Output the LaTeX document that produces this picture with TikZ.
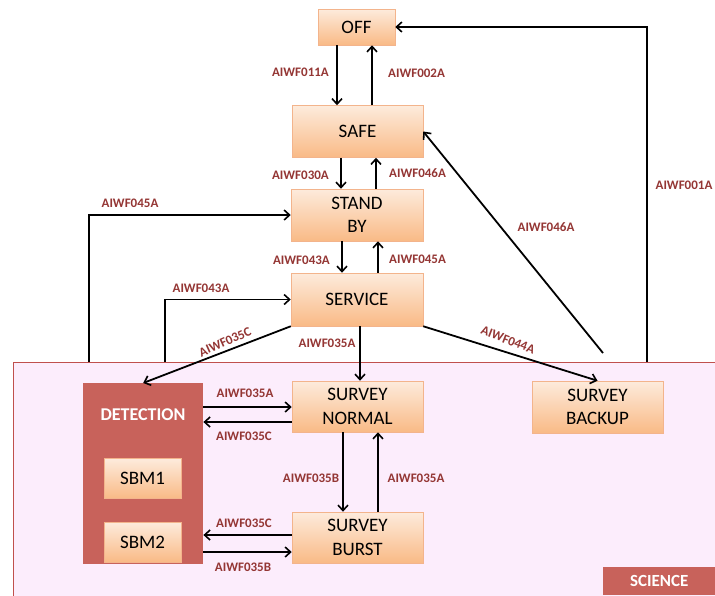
\documentclass[tikz,border=0pt]{standalone}
\usepackage{fontspec}
\setmainfont{Carlito}
\usetikzlibrary{arrows.meta,calc}
\definecolor{boxtop}{HTML}{FDEBDC}
\definecolor{boxbot}{HTML}{F9BA86}
\definecolor{boxline}{HTML}{F3B48C}
\definecolor{lab}{HTML}{943634}
\definecolor{detfill}{HTML}{C8625B}
\definecolor{scifill}{HTML}{FCEDFC}
\definecolor{sciline}{HTML}{C0504D}
\tikzset{
  statebox/.style={draw=boxline, line width=0.5pt, top color=boxtop, bottom color=boxbot,
    align=center, inner sep=0pt, font=\fontsize{19}{23.5}\selectfont},
  lbl/.style={text=lab, font=\fontsize{13}{15}\selectfont\bfseries, inner sep=1pt},
  arr/.style={line width=1.8pt, -{Straight Barb[length=5.5pt,width=10pt,line width=1.6pt]}},
  ln/.style={line width=1.8pt}
}
\begin{document}
\begin{tikzpicture}[x=1pt,y=-1pt]
\useasboundingbox (0,0) rectangle (715,595);
\clip (0,0) rectangle (715,595);
% science region
\node[draw=sciline, line width=0.6pt, fill=scifill, minimum width=720pt, minimum height=250pt, anchor=north west, inner sep=0pt] (sci) at (12.5,361.5) {};
\node[fill=detfill, minimum width=112pt, minimum height=28pt, anchor=north west, inner sep=0pt, text=white, font=\fontsize{17}{19}\selectfont\bfseries] (scitag) at (603,567) {\raisebox{-4pt}{SCIENCE}};
% detection
\node[fill=detfill, minimum width=120pt, minimum height=181pt, anchor=north west, inner sep=0pt] (det) at (83,383) {};
\node[text=white, font=\fontsize{18}{20}\selectfont\bfseries] (dettxt) at (143,415) {DETECTION};
% states
\node[statebox, minimum width=77pt, minimum height=36pt] (off) at (356.5,27) {OFF};
\node[statebox, minimum width=131pt, minimum height=52pt] (safe) at (357.5,131.5) {SAFE};
\node[statebox, minimum width=132pt, minimum height=52pt] (stby) at (357,215) {STAND\\BY};
\node[statebox, minimum width=132pt, minimum height=53pt] (serv) at (357,299.5) {SERVICE};
\node[statebox, minimum width=131pt, minimum height=51pt] (sn) at (357.5,406.5) {SURVEY\\NORMAL};
\node[statebox, minimum width=131pt, minimum height=51pt] (sb) at (357.5,537.5) {SURVEY\\BURST};
\node[statebox, minimum width=131pt, minimum height=52pt] (bk) at (597.5,407) {SURVEY\\BACKUP};
\node[statebox, minimum width=77pt, minimum height=40pt] (sbm1) at (142.5,478.5) {SBM1};
\node[statebox, minimum width=77pt, minimum height=40pt] (sbm2) at (142.5,542) {SBM2};
% coordinates for free ends
\coordinate (c45) at (89,361.5);
\coordinate (c43) at (165,361.5);
\coordinate (c01) at (647,361.5);
\coordinate (c46) at (603,353);
% vertical chain
\draw[arr] (off.south -| 337,0) -- (safe.north -| 337,0);
\draw[arr] (safe.north -| 372,0) -- (off.south -| 372,0);
\draw[arr] (safe.south -| 341,0) -- (stby.north -| 341,0);
\draw[arr] (stby.north -| 376,0) -- (safe.south -| 376,0);
\draw[arr] (stby.south -| 342,0) -- (serv.north -| 342,0);
\draw[arr] (serv.north -| 378,0) -- (stby.south -| 378,0);
\draw[arr] (serv.south -| 360,0) -- (sn.north -| 360,0);
\draw[arr] (serv.south west) -- (det.north);
\draw[arr] (serv.south east) -- (bk.north);
\draw[arr] (c46) -- (safe.east);
\draw[arr] (c01) -- (c01 |- off.east) -- (off.east);
\draw[arr] (c45) -- (c45 |- stby.west) -- (stby.west);
\draw[arr] (c43) -- (c43 |- serv.west) -- (serv.west);
% science internal
\draw[arr] (det.east |- 0,407) -- (sn.west |- 0,407);
\draw[arr] (sn.west |- 0,422) -- (det.east |- 0,422);
\draw[arr] (sn.south -| 343,0) -- (sb.north -| 343,0);
\draw[arr] (sb.north -| 378,0) -- (sn.south -| 378,0);
\draw[arr] (sb.west |- 0,535) -- (det.east |- 0,535);
\draw[arr] (det.east |- 0,552) -- (sb.west |- 0,552);
% labels
\node[lbl, anchor=east] (l011) at (330,72) {AIWF011A};
\node[lbl, anchor=west] (l002) at (387,73) {AIWF002A};
\node[lbl, anchor=east] (l030) at (330,175) {AIWF030A};
\node[lbl, anchor=west] (l046a) at (388,173) {AIWF046A};
\node[lbl, anchor=east] (l043a) at (331,260) {AIWF043A};
\node[lbl, anchor=west] (l045a) at (388,259) {AIWF045A};
\node[lbl] (l045b) at (130,203) {AIWF045A};
\node[lbl] (l043b) at (201,288) {AIWF043A};
\node[lbl, rotate=24] (l035c) at (225,342) {AIWF035C};
\node[lbl] (l035a) at (327,343) {AIWF035A};
\node[lbl, rotate=-21] (l044) at (508,340) {AIWF044A};
\node[lbl] (l046b) at (546,227) {AIWF046A};
\node[lbl] (l001) at (684,185) {AIWF001A};
\node[lbl] (l035a2) at (245,393) {AIWF035A};
\node[lbl] (l035c2) at (244,436) {AIWF035C};
\node[lbl] (l035b) at (311,478) {AIWF035B};
\node[lbl] (l035a3) at (416,478) {AIWF035A};
\node[lbl] (l035c3) at (244,523) {AIWF035C};
\node[lbl] (l035b2) at (243,567) {AIWF035B};
\end{tikzpicture}
\end{document}
